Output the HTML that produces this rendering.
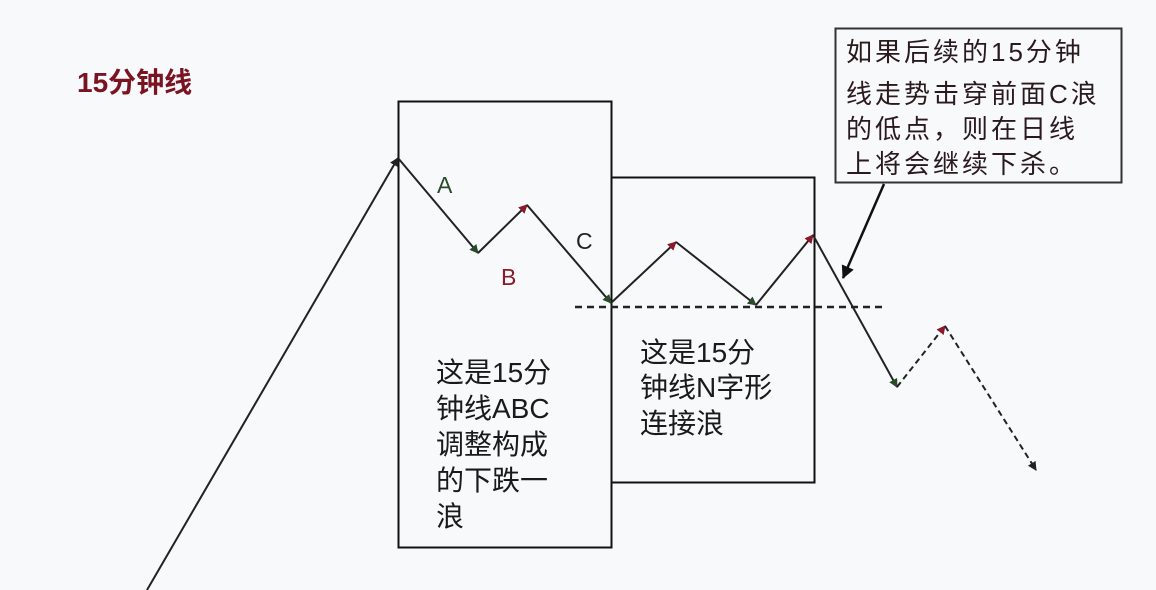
<!DOCTYPE html>
<html><head><meta charset="utf-8"><style>
html,body{margin:0;padding:0;background:#f8f9fb;}
svg{display:block;}
text{font-family:"Liberation Sans","Noto Sans CJK SC",sans-serif;}
</style></head><body>
<svg width="1156" height="590" viewBox="0 0 1156 590" xmlns="http://www.w3.org/2000/svg">
<defs>
<marker id="ab" markerWidth="9" markerHeight="9" refX="8" refY="4.5" orient="auto" markerUnits="userSpaceOnUse"><path d="M0,0 L9,4.5 L0,9 z" fill="#222"/></marker>
<marker id="ar" markerWidth="9" markerHeight="9" refX="8" refY="4.5" orient="auto" markerUnits="userSpaceOnUse"><path d="M0,0 L9,4.5 L0,9 z" fill="#8a1a2a"/></marker>
<marker id="ag" markerWidth="9" markerHeight="9" refX="8" refY="4.5" orient="auto" markerUnits="userSpaceOnUse"><path d="M0,0 L9,4.5 L0,9 z" fill="#2a4a2a"/></marker>
<marker id="ak" markerWidth="13" markerHeight="13" refX="12" refY="6.5" orient="auto" markerUnits="userSpaceOnUse"><path d="M0,0 L13,6.5 L0,13 z" fill="#111"/></marker>
</defs>
<rect width="1156" height="590" fill="#f8f9fb"/>
<text x="77" y="92" font-size="28" font-weight="bold" fill="#7a1422">15分钟线</text>

<rect x="398.5" y="101.5" width="213" height="446" fill="none" stroke="#111" stroke-width="2"/>
<rect x="611.5" y="177.5" width="203" height="305" fill="none" stroke="#111" stroke-width="2"/>
<rect x="835.5" y="28.5" width="286" height="154" fill="none" stroke="#333" stroke-width="2"/>

<line x1="575" y1="307" x2="885" y2="307" stroke="#222" stroke-width="2.5" stroke-dasharray="7,5"/>

<g stroke="#222" stroke-width="2" fill="none">
<line x1="147" y1="590" x2="398" y2="158" marker-end="url(#ab)"/>
<line x1="398" y1="158" x2="478" y2="253" marker-end="url(#ag)"/>
<line x1="478" y1="253" x2="527" y2="205" marker-end="url(#ar)"/>
<line x1="527" y1="205" x2="611" y2="303" marker-end="url(#ag)"/>
<line x1="611" y1="303" x2="676" y2="242" marker-end="url(#ar)"/>
<line x1="676" y1="242" x2="756" y2="305" marker-end="url(#ag)"/>
<line x1="756" y1="305" x2="813" y2="235" marker-end="url(#ar)"/>
<line x1="813" y1="235" x2="897" y2="387" marker-end="url(#ag)"/>
<line x1="897" y1="387" x2="945" y2="326" stroke-dasharray="6,4" marker-end="url(#ar)"/>
<line x1="945" y1="326" x2="1036" y2="470" stroke-dasharray="6,4" marker-end="url(#ab)"/>
<line x1="884" y1="184" x2="843" y2="278" stroke="#111" stroke-width="2.5" marker-end="url(#ak)"/>
</g>

<text x="437" y="193" font-size="23" fill="#2a4a2a">A</text>
<text x="501" y="285" font-size="23" fill="#8a1a2a">B</text>
<text x="576" y="249" font-size="23" fill="#222">C</text>

<g font-size="28" fill="#1a1a1a">
<text x="436" y="382">这是15分</text>
<text x="436" y="418">钟线ABC</text>
<text x="436" y="454">调整构成</text>
<text x="436" y="490">的下跌一</text>
<text x="436" y="526">浪</text>
<text x="640" y="362">这是15分</text>
<text x="640" y="397">钟线N字形</text>
<text x="640" y="433">连接浪</text>
</g>
<g font-size="26" fill="#2a1a1e" letter-spacing="3">
<text x="846" y="61">如果后续的15分钟</text>
<text x="846" y="103">线走势击穿前面C浪</text>
<text x="846" y="138">的低点，则在日线</text>
<text x="846" y="173">上将会继续下杀。</text>
</g>
</svg>
</body></html>
